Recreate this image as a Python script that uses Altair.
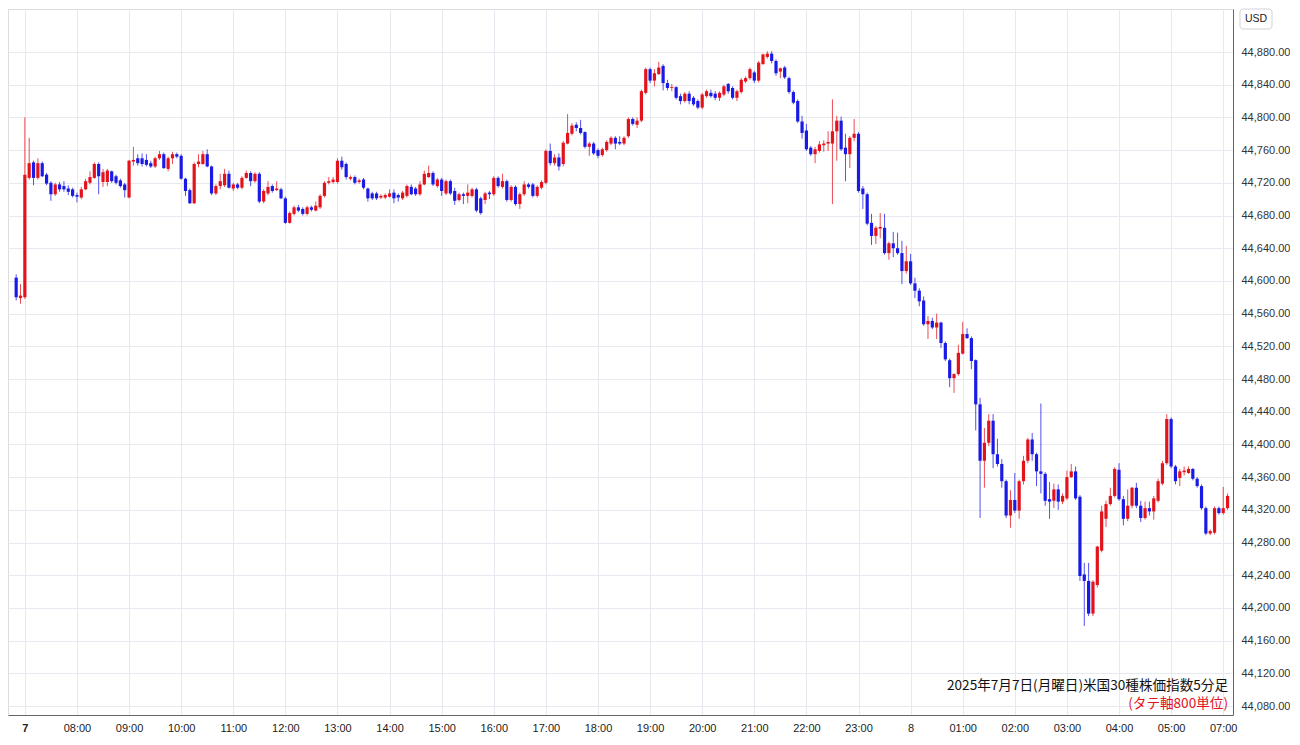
import altair as alt
import pandas as pd

# 5-minute candles: two from the previous session, then 07:00 (7th) .. 07:05 (8th)
opens = [44604,44579,44580,44726,44745,44726,44744,44730,44720,44706,44718,44716,44713,44712,44705,44702,44712,44720,44726,44743,
         44721,44721,44734,44728,44723,44718,44702,44746,44750,44750,44748,44744,44740,44750,44755,44737,44750,44755,44753,44725,
         44711,44695,44743,44743,44755,44740,44707,44716,44717,44731,44713,44718,44714,44726,44732,44722,44731,44697,44707,44716,
         44711,44712,44701,44671,44682,44690,44688,44682,44690,44686,44690,44704,44720,44721,44721,44747,44743,44725,44727,44721,
         44724,44713,44707,44707,44702,44702,44703,44708,44705,44701,44704,44715,44713,44706,44718,44727,44732,44716,44724,44707,
         44722,44710,44699,44706,44704,44704,44712,44701,44699,44708,44706,44726,44715,44722,44699,44715,44694,44706,44718,44718,
         44704,44714,44720,44759,44744,44751,44743,44768,44780,44791,44787,44782,44764,44768,44760,44754,44760,44768,44775,44770,
         44768,44777,44798,44791,44796,44830,44859,44845,44853,44863,44842,44836,44837,44826,44820,44829,44824,44820,44812,44826,
         44830,44829,44824,44828,44841,44836,44824,44831,44844,44848,44855,44845,44865,44874,44878,44869,44856,44861,44848,44831,
         44820,44795,44784,44763,44755,44759,44766,44768,44768,44783,44796,44763,44755,44775,44780,44713,44706,44671,44655,44664,
         44665,44634,44646,44640,44634,44612,44624,44597,44588,44576,44547,44551,44543,44549,44524,44503,44481,44486,44511,44535,
         44530,44503,44449,44380,44402,44429,44388,44376,44355,44313,44332,44319,44355,44380,44406,44388,44367,44364,44333,44331,
         44345,44330,44334,44360,44367,44336,44241,44233,44193,44228,44270,44309,44327,44337,44369,44333,44309,44325,44347,44325,
         44310,44322,44318,44331,44352,44377,44431,44373,44359,44366,44365,44370,44358,44349,44322,44291,44292,44322,44316,44322]
highs = [44608,44596,44800,44775,44747,44750,44746,44732,44722,44720,44721,44722,44717,44714,44708,44715,44725,44734,44745,44745,
         44737,44737,44735,44730,44725,44720,44748,44764,44755,44756,44755,44747,44752,44759,44757,44752,44758,44757,44755,44726,
         44713,44745,44755,44759,44761,44741,44718,44731,44737,44735,44720,44720,44728,44735,44734,44733,44733,44712,44722,44718,
         44722,44714,44703,44685,44692,44693,44690,44692,44692,44697,44706,44722,44727,44727,44750,44752,44745,44729,44729,44725,
         44726,44714,44709,44709,44706,44707,44712,44712,44707,44710,44718,44718,44715,44722,44735,44741,44734,44726,44726,44724,
         44724,44714,44708,44708,44718,44714,44714,44703,44709,44710,44728,44728,44731,44724,44717,44717,44708,44722,44720,44720,
         44717,44723,44761,44768,44755,44756,44771,44804,44793,44794,44797,44783,44770,44770,44762,44763,44772,44777,44777,44777,
         44777,44800,44800,44800,44834,44861,44861,44859,44868,44865,44846,44841,44838,44829,44831,44832,44826,44822,44830,44834,
         44834,44832,44832,44840,44842,44838,44834,44848,44850,44861,44857,44869,44878,44881,44881,44871,44861,44863,44850,44833,
         44822,44802,44792,44765,44764,44771,44772,44783,44822,44802,44801,44780,44777,44798,44782,44716,44708,44682,44667,44683,
         44682,44648,44660,44659,44649,44643,44633,44604,44591,44581,44557,44555,44560,44550,44526,44505,44487,44522,44550,44542,
         44532,44504,44457,44420,44437,44437,44407,44382,44357,44344,44365,44357,44386,44408,44414,44390,44450,44366,44354,44352,
         44351,44340,44368,44376,44373,44338,44255,44255,44234,44276,44325,44331,44347,44372,44377,44337,44345,44348,44353,44331,
         44330,44330,44337,44358,44380,44437,44433,44375,44370,44373,44373,44371,44360,44351,44324,44296,44324,44324,44348,44340]
lows = [44576,44572,44578,44724,44717,44724,44727,44717,44698,44704,44709,44709,44705,44702,44696,44700,44711,44718,44725,44706,
        44715,44716,44720,44718,44714,44702,44701,44741,44741,44740,44740,44738,44738,44748,44737,44734,44743,44750,44724,44704,
        44694,44694,44739,44742,44739,44705,44705,44712,44715,44713,44710,44712,44712,44725,44716,44720,44695,44695,44705,44708,
        44710,44700,44670,44670,44680,44684,44680,44680,44685,44685,44688,44702,44718,44719,44719,44736,44724,44723,44718,44719,
        44712,44697,44699,44699,44700,44700,44702,44695,44697,44699,44702,44705,44704,44704,44717,44726,44716,44714,44704,44705,
        44705,44693,44697,44694,44695,44702,44684,44681,44694,44700,44704,44714,44713,44697,44697,44692,44688,44704,44713,44702,
        44702,44712,44718,44741,44741,44735,44740,44767,44778,44783,44779,44762,44753,44754,44750,44752,44758,44766,44761,44766,
        44766,44775,44790,44787,44794,44828,44842,44838,44852,44833,44833,44832,44822,44816,44818,44816,44814,44810,44810,44824,
        44824,44821,44820,44826,44829,44822,44820,44829,44842,44846,44842,44843,44865,44872,44866,44851,44848,44847,44829,44816,
        44793,44774,44759,44753,44744,44757,44758,44759,44694,44747,44759,44722,44738,44771,44708,44688,44668,44644,44645,44652,
        44632,44626,44629,44632,44596,44609,44595,44579,44569,44545,44529,44541,44529,44518,44502,44470,44463,44484,44510,44529,
        44492,44417,44310,44347,44398,44371,44373,44347,44310,44298,44316,44309,44351,44377,44380,44349,44340,44325,44309,44322,
        44320,44327,44332,44359,44332,44233,44178,44190,44190,44225,44268,44299,44325,44335,44331,44301,44306,44322,44322,44305,
        44308,44313,44308,44329,44350,44375,44371,44351,44349,44362,44364,44356,44347,44320,44289,44289,44290,44314,44314,44320]
closes = [44580,44582,44730,44744,44726,44744,44728,44719,44706,44718,44712,44712,44709,44704,44703,44712,44722,44727,44743,44728,
          44733,44735,44722,44720,44716,44711,44747,44748,44744,44743,44742,44740,44750,44755,44738,44750,44755,44752,44725,44710,
          44695,44743,44746,44755,44740,44707,44716,44722,44731,44714,44718,44714,44726,44732,44722,44731,44697,44710,44715,44710,
          44713,44701,44671,44683,44690,44686,44682,44690,44687,44692,44704,44720,44722,44724,44747,44739,44727,44727,44720,44723,
          44714,44701,44701,44701,44704,44705,44707,44701,44702,44708,44716,44706,44706,44718,44731,44732,44718,44724,44710,44722,
          44707,44698,44706,44704,44708,44712,44686,44683,44707,44706,44726,44716,44722,44699,44715,44694,44706,44718,44715,44704,
          44715,44721,44759,44744,44751,44740,44769,44781,44790,44787,44781,44764,44768,44756,44753,44761,44770,44775,44768,44768,
          44775,44798,44792,44796,44832,44859,44845,44854,44861,44842,44836,44837,44824,44820,44829,44820,44816,44812,44828,44832,
          44826,44824,44830,44838,44832,44824,44832,44846,44848,44859,44845,44867,44877,44878,44869,44854,44860,44849,44831,44818,
          44795,44781,44761,44755,44761,44767,44768,44770,44783,44796,44761,44755,44775,44780,44710,44706,44670,44655,44665,44666,
          44634,44646,44640,44634,44612,44624,44597,44588,44575,44547,44551,44543,44549,44524,44504,44481,44486,44512,44535,44530,
          44502,44449,44380,44402,44429,44388,44376,44355,44313,44332,44319,44355,44380,44406,44388,44367,44364,44331,44330,44345,
          44330,44337,44360,44367,44334,44239,44233,44193,44232,44275,44318,44327,44337,44370,44333,44309,44325,44347,44325,44310,
          44322,44318,44334,44355,44377,44431,44373,44355,44367,44368,44370,44358,44349,44322,44291,44294,44322,44316,44322,44337]

# hour labels (one per 12 candles, first at the 07:00 candle)
hour_labels = ["7", "08:00", "09:00", "10:00", "11:00", "12:00", "13:00", "14:00", "15:00", "16:00",
               "17:00", "18:00", "19:00", "20:00", "21:00", "22:00", "23:00", "8", "01:00", "02:00",
               "03:00", "04:00", "05:00", "07:00"]
y_ticks = list(range(44080, 44881, 40))

title_line1 = "2025年7月7日(月曜日)米国30種株価指数5分足"
title_line2 = "(タテ軸800単位)"

UP = "#e3121b"
DOWN = "#1a1ae6"
GRID = "#e6e9ef"

df = pd.DataFrame({"i": list(range(len(opens))), "open": opens, "high": highs,
                   "low": lows, "close": closes})

W, H = 1225, 706
label_js = "[" + ",".join("'%s'" % s for s in hour_labels) + "]"

x_axis = alt.Axis(values=[2 + 12 * k for k in range(len(hour_labels))],
                  labelExpr=label_js + "[round((datum.value-2)/12)]",
                  title=None, grid=True, gridColor=GRID, gridWidth=1,
                  ticks=False, domainColor="#666666", labelColor="#222222",
                  labelFontSize=11, labelFont="Liberation Sans", labelPadding=7,
                  labelOverlap=False,
                  labelFontWeight={"condition": {"test": "datum.value == 2", "value": "bold"}, "value": "normal"})
x_scale = alt.Scale(domain=[-0.73, 279.1], nice=False, zero=False)
y_scale = alt.Scale(domain=[44069, 44932.6], nice=False, zero=False)
y_axis = alt.Axis(orient="right", values=y_ticks, format=",.2f", title=None,
                  grid=True, gridColor=GRID, gridWidth=1, ticks=False,
                  domainColor="#666666", labelColor="#333333", labelFontSize=11,
                  labelFont="Liberation Sans", labelPadding=8, labelOverlap=False)

color = alt.condition("datum.close >= datum.open", alt.value(UP), alt.value(DOWN))

base = alt.Chart(df)
wick = base.mark_rule(strokeWidth=1, opacity=0.75, clip=True).encode(
    x=alt.X("i:Q", scale=x_scale, axis=x_axis),
    y=alt.Y("low:Q", scale=y_scale, axis=y_axis),
    y2="high:Q",
    color=color,
)
body = base.mark_bar(size=3.2, clip=True).encode(
    x=alt.X("i:Q", scale=x_scale, axis=x_axis),
    y=alt.Y("open:Q", scale=y_scale, axis=y_axis),
    y2="close:Q",
    color=color,
)

txt1 = alt.Chart(pd.DataFrame({"t": [title_line1]})).mark_text(
    align="right", baseline="middle", fontSize=13.6, font="Noto Sans CJK JP", color="#111111"
).encode(x=alt.value(1220), y=alt.value(677), text="t:N")
txt2 = alt.Chart(pd.DataFrame({"t": [title_line2]})).mark_text(
    align="right", baseline="middle", fontSize=13.6, font="Noto Sans CJK JP", color="#e3121b"
).encode(x=alt.value(1220), y=alt.value(695), text="t:N")

usd_box = alt.Chart(pd.DataFrame({"a": [0]})).mark_rect(
    fill="white", stroke="#cfd3da", strokeWidth=1, cornerRadius=3
).encode(x=alt.value(1232), x2=alt.value(1264), y=alt.value(0), y2=alt.value(20))
usd_txt = alt.Chart(pd.DataFrame({"t": ["USD"]})).mark_text(
    align="center", baseline="middle", fontSize=10.5, font="Liberation Sans", color="#222222"
).encode(x=alt.value(1248), y=alt.value(10), text="t:N")

chart = alt.layer(wick, body, txt1, txt2, usd_box, usd_txt).properties(
    width=W, height=H, padding=0
).configure_view(stroke="#dfe2e8").configure(background="white")

chart.save("out.html", embed_options={"renderer": "svg", "actions": False})
